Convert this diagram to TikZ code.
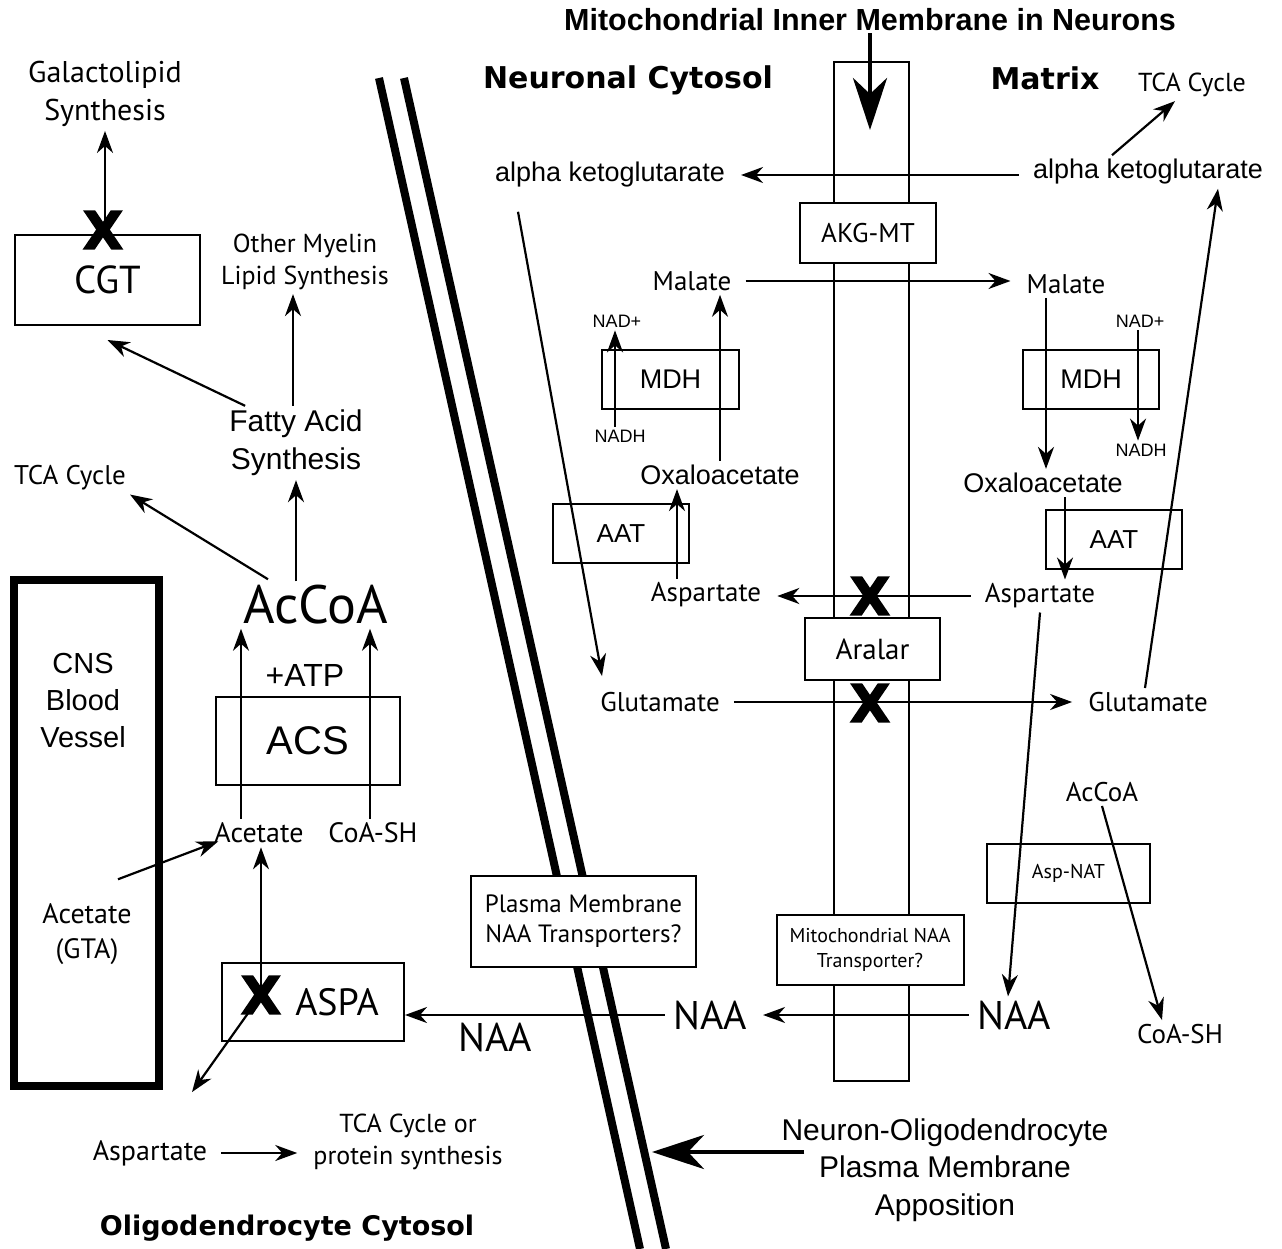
\documentclass[tikz,border=0pt]{standalone}
\usepackage{fontspec}
\setmainfont{Liberation Sans}
\newfontfamily\myr{PT Sans}
\newfontfamily\heavy{DejaVu Sans}
\newfontfamily\koFont[FakeBold=3]{DejaVu Sans Bold}
\usetikzlibrary{arrows.meta,positioning}

\newcommand\fs[2]{\fontsize{#1}{#2}\selectfont}

\tikzset{
  ar/.style={inner sep=4pt, align=center, font=\fs{27}{38}},
  my/.style={inner sep=4pt, align=center, font=\myr\fs{27}{36}},
  sm/.style={inner sep=3pt, font=\fs{18}{20}},
  enz/.style={draw, line width=2pt, fill=white, inner sep=0pt},
  rxn/.style={line width=2.2pt, -{Stealth[length=22pt,width=16pt,inset=7pt]}},
  hz/.style={rxn, shorten <=10pt, shorten >=12pt},
  big/.style={line width=4.5pt, -{Stealth[length=52pt,width=34pt,inset=16pt]}},
  ko/.style={inner sep=0pt, font=\koFont\fs{52}{52}},
  hd/.style={inner sep=0pt, font=\heavy\bfseries\fs{30}{30}},
  memb/.style={line width=8pt},
}

\begin{document}
\begin{tikzpicture}[x=1pt, y=-1pt]
	\useasboundingbox (0,0) rectangle (1282,1249);

	% membranes
	\draw[memb] (379,78) -- (640,1249);
	\draw[memb] (404,78) -- (666,1249);
	\draw[line width=8pt] (14,580) rectangle (159,1086);
	\node[draw, line width=2pt, minimum width=75pt, minimum height=1019pt, inner sep=0pt] (mito) at (871.5,571.5) {};

	% headings
	\node[inner sep=2pt, font=\bfseries\fs{30.5}{30}] (mimT) at (870,20) {Mitochondrial Inner Membrane in Neurons};
	\node[hd] (ncT) at (628,80) {Neuronal Cytosol};
	\node[hd] (mxT) at (1045,78) {Matrix};
	\node[hd, font=\heavy\bfseries\fs{27}{27}] (ocT) at (287,1228) {Oligodendrocyte Cytosol};

	% oligodendrocyte
	\node[my, font=\myr\fs{30}{38}] (galac) at (105,94) {Galactolipid\\Synthesis};
	\node[enz, minimum width=185pt, minimum height=90pt, font=\myr\fs{39}{39}] (cgt) at (107.5,280) {CGT};
	\node[my, font=\myr\fs{26}{32}] (myel) at (305,262) {Other Myelin\\Lipid Synthesis};
	\node[ar, font=\fs{30}{38}] (fas) at (296,443) {Fatty Acid\\Synthesis};
	\node[my] (tcaO) at (70,478) {TCA Cycle};
	\node[my, font=\myr\fs{54}{54}] (accoa) at (316,605) {AcCoA};
	\node[ar, font=\fs{29}{37}] (cns) at (83,701) {CNS\\Blood\\Vessel};
	\node[ar, font=\fs{32}{32}] (atp) at (305,675) {+ATP};
	\node[enz, minimum width=184pt, minimum height=88pt, font=\fs{40}{40}] (acs) at (308,741) {ACS};
	\node[my, font=\myr\fs{28}{34}] (acet) at (259,833) {Acetate};
	\node[my, font=\myr\fs{28}{34}] (coash) at (373,833) {CoA-SH};
	\node[my, font=\myr\fs{28}{35}] (acetG) at (87,934) {Acetate\\(GTA)};
	\node[enz, minimum width=182pt, minimum height=78pt, font=\myr\fs{38}{38}] (aspa) at (313,1002) {\hspace*{48pt}ASPA};
	\node[my, font=\myr\fs{28}{34}] (aspO) at (150,1153) {Aspartate};
	\node[my, font=\myr\fs{26}{32}] (tcaP) at (408,1142) {TCA Cycle or\\protein synthesis};
	\node[my, font=\myr\fs{40}{40}] (naaL) at (495,1037) {NAA};
	\node[enz, minimum width=225pt, minimum height=91pt, align=center, font=\myr\fs{25}{30}] (pmT) at (583.5,921.5) {Plasma Membrane\\NAA Transporters?};

	\draw[rxn] (cgt.north -| galac) -- (galac.south);
	\draw[rxn] (fas.north -| 293,0) -- (myel.south -| 293,0);
	\draw[rxn] ([xshift=20pt]fas.north west) -- ([yshift=-14pt]cgt.south);
	\draw[rxn] ([shift={(-48,-2)}]accoa.north) -- (tcaO.south east);
	\draw[rxn] (accoa.north -| fas) -- (fas.south);
	\draw[rxn] ([xshift=-18pt]acet.north) -- ([xshift=-18pt]acet.north |- accoa.south);
	\draw[rxn] ([xshift=-3pt]coash.north) -- ([xshift=-3pt]coash.north |- accoa.south);
	\draw[rxn] ([shift={(31,-20)}]acetG.north) -- ([shift={(8,-6)}]acet.south west);
	\node[ko] (kA) at (261,995) {X};
	\node[ko] (kC) at (103,230) {X};
	\draw[rxn] (kA.center) -- (kA.center |- acet.south);
	\draw[rxn] (kA.center) -- ([shift={(42,-44)}]aspO.north);
	\draw[hz] (aspO.east) -- (tcaP.west |- aspO.east);

	% neuron
	\node[enz, minimum width=136pt, minimum height=60pt, font=\myr\fs{27}{27}] (akgmt) at (868,233) {AKG-MT};
	\node[enz, minimum width=135pt, minimum height=62pt, font=\myr\fs{29}{29}] (aralar) at (872.5,649) {Aralar};
	\node[enz, minimum width=187pt, minimum height=70pt, align=center, font=\myr\fs{20}{25}] (mntT) at (870,950) {Mitochondrial NAA\\Transporter?};

	\node[ar] (akgN) at (610,175) {alpha ketoglutarate};
	\node[ar] (akgM) at (1148,172) {alpha ketoglutarate};
	\node[my, font=\myr\fs{26}{32}] (tcaM) at (1192,85) {TCA Cycle};
	\node[my] (malN) at (692,281) {Malate};
	\node[my] (malM) at (1066,284) {Malate};
	\node[enz, minimum width=137pt, minimum height=59pt, font=\fs{27}{27}] (mdhN) at (670.5,379.5) {MDH};
	\node[enz, minimum width=136pt, minimum height=59pt, font=\fs{27}{27}] (mdhM) at (1091,379.5) {MDH};
	\node[sm] (nadN) at (617,321) {NAD+};
	\node[sm] (nadhN) at (620,436) {NADH};
	\node[sm] (nadM) at (1140,321) {NAD+};
	\node[sm] (nadhM) at (1141,450) {NADH};
	\node[ar] (oaaN) at (720,475) {Oxaloacetate};
	\node[ar] (oaaM) at (1043,483) {Oxaloacetate};
	\node[enz, minimum width=136pt, minimum height=59pt, font=\fs{26}{26}] (aatN) at (621,533.5) {AAT};
	\node[enz, minimum width=136pt, minimum height=59pt, font=\fs{26}{26}] (aatM) at (1114,539.5) {AAT};
	\node[my] (aspN) at (706,595) {Aspartate};
	\node[my] (aspM) at (1040,596) {Aspartate};
	\node[my] (gluN) at (660,702) {Glutamate};
	\node[my] (gluM) at (1148,702) {Glutamate};
	\node[my, font=\myr\fs{27}{32}] (accoaM) at (1102,792) {AcCoA};
	\node[enz, minimum width=163pt, minimum height=59pt, font=\myr\fs{20}{20}] (aspnat) at (1068.5,873.5) {Asp-NAT};
	\node[my, font=\myr\fs{27}{32}] (coashM) at (1180,1034) {CoA-SH};
	\node[my, font=\myr\fs{40}{40}] (naaN) at (710,1015) {NAA};
	\node[my, font=\myr\fs{40}{40}] (naaM) at (1014,1015) {NAA};
	\node[ar, font=\fs{30}{37.5}] (noA) at (945,1170) {Neuron-Oligodendrocyte\\Plasma Membrane\\Apposition};

	\draw[hz] (akgM.west |- akgN.east) -- (akgN.east);
	\draw[hz] (malN.east) -- (malM.west |- malN.east);
	\draw[hz] (aspM.west) -- (aspN.east |- aspM.west);
	\draw[hz] (gluN.east) -- (gluM.west);
	\draw[hz, shorten <=4pt] (naaM.west) -- (naaN.east);
	\draw[rxn, shorten <=4pt] (naaN.west) -- (aspa.east |- naaN.west);
	\node[ko] (kAsp) at (870,596) {X};
	\node[ko] (kGlu) at (870,703) {X};

	\draw[rxn] ([shift={(-92,20)}]akgN.south) -- ([shift={(-58,-12)}]gluN.north);
	\draw[rxn] ([xshift=-5pt]nadhN.north) -- ([xshift=-2pt]nadN.south);
	\draw[rxn] (oaaN.north) -- (oaaN.north |- malN.south);
	\draw[rxn] ([xshift=-29pt]aspN.north) -- ([xshift=-29pt]aspN.north |- oaaN.south);
	\draw[rxn] ([xshift=-20pt]malM.south) -- ([xshift=-20pt]malM.south |- oaaM.north);
	\draw[rxn] ([xshift=-2pt]nadM.south) -- ([xshift=-3pt]nadhM.north);
	\draw[rxn] ([xshift=22pt]oaaM.south) -- ([xshift=22pt]oaaM.south |- aspM.north);
	\draw[rxn] ([xshift=-3pt]gluM.north) -- ([xshift=70pt]akgM.south);
	\draw[rxn] ([xshift=-36pt]akgM.north) -- ([xshift=-17pt]tcaM.south);
	\draw[rxn] (aspM.south) -- ([xshift=-6pt]naaM.north);
	\draw[rxn] (accoaM.south) -- ([xshift=-18pt]coashM.north);

	% big pointers
	\coordinate (mtip) at (870,130);
	\coordinate (aptip) at (652,1152);
	\draw[big] (mimT.south) -- (mtip);
	\draw[big] ([shift={(27,-18)}]noA.west) -- (aptip);
\end{tikzpicture}
\end{document}
